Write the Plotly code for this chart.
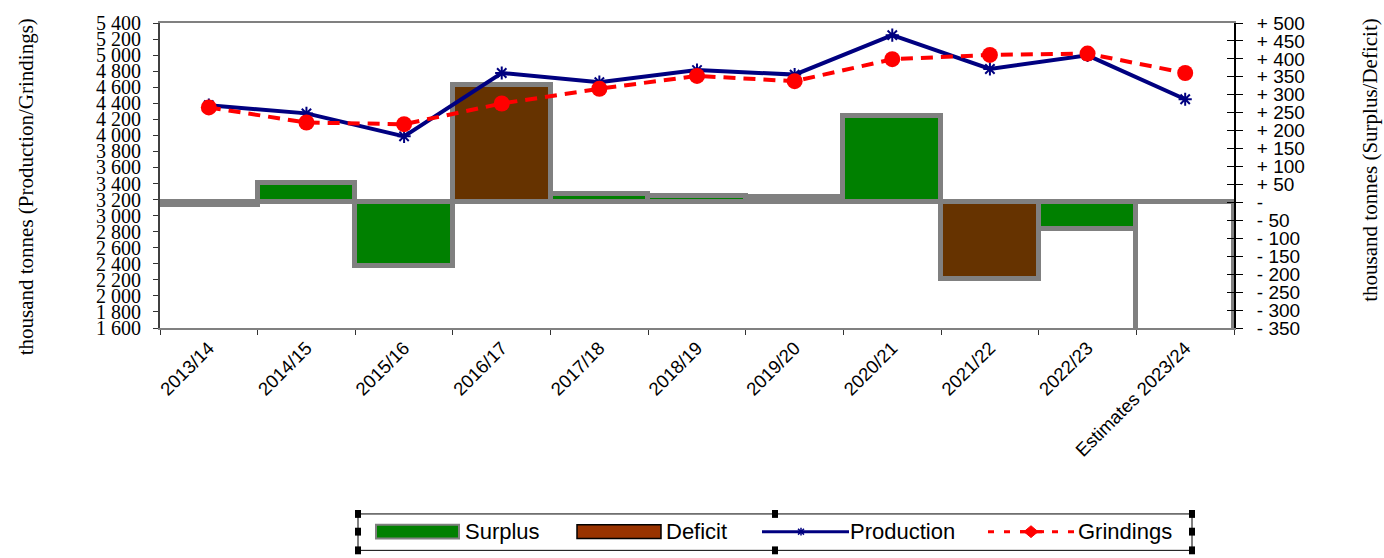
import plotly.graph_objects as go

# ---------------- data ----------------
categories = ["2013/14", "2014/15", "2015/16", "2016/17", "2017/18", "2018/19",
              "2019/20", "2020/21", "2021/22", "2022/23", "Estimates 2023/24"]
production = [4376, 4274, 3988, 4777, 4663, 4814, 4757, 5248, 4827, 4997, 4450]
grindings = [4348, 4160, 4139, 4397, 4581, 4741, 4675, 4949, 5002, 5019, 4777]
balance = [-6, 54, -176, 327, 24, 18, 15, 242, -213, -75, -462]
balance_kind = ["Surplus", "Surplus", "Surplus", "Deficit", "Surplus", "Surplus",
                "Deficit", "Surplus", "Deficit", "Surplus", "Estimate"]
right_tickvals = [500, 450, 400, 350, 300, 250, 200, 150, 100, 50, 0,
                  -50, -100, -150, -200, -250, -300, -350]
right_ticktext = ["+ 500", "+ 450", "+ 400", "+ 350", "+ 300", "+ 250", "+ 200",
                  "+ 150", "+ 100", "+ 50", "-", "- 50", "- 100", "- 150",
                  "- 200", "- 250", "- 300", "- 350"]

kind_color = {"Surplus": "#008000", "Deficit": "#663300", "Estimate": "rgba(0,0,0,0)"}
bar_colors = [kind_color[k] for k in balance_kind]

# ---------------- geometry (pixels) ----------------
W, H = 1384, 558
L, R, T, B = 160, 150, 18, 230
PW, PH = W - L - R, H - T - B


def px(x):
    return (x - L) / PW


def py(y):
    return (H - B - y) / PH


fig = go.Figure()

fig.add_trace(go.Bar(
    x=categories, y=balance, width=1, yaxis="y",
    marker=dict(color=bar_colors, line=dict(color="#808080", width=5)),
    showlegend=False, hoverinfo="x+y"))

fig.add_trace(go.Scatter(
    x=categories, y=[None] * len(categories), yaxis="y3",
    showlegend=False, hoverinfo="skip"))

fig.add_trace(go.Scatter(
    x=categories, y=production, yaxis="y2", mode="lines+markers", name="Production",
    line=dict(color="#000080", width=4),
    marker=dict(symbol="asterisk-open", size=11, color="#000080",
                line=dict(color="#000080", width=2)),
    showlegend=False))

fig.add_trace(go.Scatter(
    x=categories, y=grindings, yaxis="y2", mode="lines+markers", name="Grindings",
    line=dict(color="#FF0000", width=4, dash="12px,8px"),
    marker=dict(symbol="circle", size=16, color="#FF0000"),
    showlegend=False))

fig.update_layout(
    width=W, height=H,
    margin=dict(l=L, r=R, t=T, b=B, pad=0),
    paper_bgcolor="white", plot_bgcolor="white",
    separators=". ",
    bargap=0,
    showlegend=False,
    xaxis=dict(
        type="category", range=[-0.5, len(categories) - 0.5],
        tickangle=-45, ticks="outside", tickson="boundaries", ticklen=5,
        tickcolor="#333333", tickwidth=1,
        showline=True, linecolor="#808080", linewidth=2, mirror=True,
        showgrid=False,
        tickfont=dict(family="Liberation Sans, Arial", size=18.5, color="black")),
    yaxis=dict(
        side="right", range=[-350, 500],
        tickvals=right_tickvals, ticktext=right_ticktext,
        ticks="outside", ticklen=7, tickcolor="black", tickwidth=1,
        showline=True, linecolor="black", linewidth=2,
        showgrid=False, zeroline=False, ticklabelstandoff=10,
        tickfont=dict(family="Liberation Sans, Arial", size=19, color="black")),
    yaxis3=dict(
        side="right", overlaying="y", range=[-350, 500],
        tickvals=right_tickvals, ticks="inside", ticklen=7,
        tickcolor="black", tickwidth=1, showticklabels=False,
        showline=False, showgrid=False, zeroline=False),
    yaxis2=dict(
        side="left", overlaying="y", range=[1600, 5400], dtick=200,
        tickformat=",d", ticks="outside", ticklen=5, tickcolor="#333333",
        showline=True, linecolor="#404040", linewidth=2,
        showgrid=False, zeroline=False, ticklabelstandoff=8,
        tickfont=dict(family="Liberation Serif, Times New Roman", size=20, color="black")),
)

annotations = [
    dict(text="thousand tonnes (Production/Grindings)", x=px(26), y=py(185),
         xref="paper", yref="paper", xanchor="center", yanchor="middle",
         showarrow=False, textangle=-90,
         font=dict(family="Liberation Serif, Times New Roman", size=21, color="black")),
    dict(text="thousand tonnes (Surplus/Deficit)", x=px(1370), y=py(158),
         xref="paper", yref="paper", xanchor="center", yanchor="middle",
         showarrow=False, textangle=-90,
         font=dict(family="Liberation Serif, Times New Roman", size=21, color="black")),
]

# ---------------- custom legend ----------------
shapes = []
lx0, lx1, ly0, ly1 = 358, 1192, 517, 554
lym = 535
shapes.append(dict(type="rect", xref="paper", yref="paper",
                   x0=px(lx0), x1=px(lx1), y0=py(ly0), y1=py(ly1),
                   line=dict(color="black", width=1), fillcolor="rgba(0,0,0,0)"))
for hx in (lx0, (lx0 + lx1) / 2, lx1):
    for hy in (ly0, lym, ly1):
        if hx == (lx0 + lx1) / 2 and hy == lym:
            continue
        shapes.append(dict(type="rect", xref="paper", yref="paper",
                           x0=px(hx - 3), x1=px(hx + 3), y0=py(hy - 4), y1=py(hy + 4),
                           line=dict(color="black", width=0), fillcolor="black"))

font_leg = dict(family="Liberation Sans, Arial", size=22, color="black")
# Surplus
shapes.append(dict(type="rect", xref="paper", yref="paper",
                   x0=px(376), x1=px(459), y0=py(528), y1=py(542),
                   line=dict(color="#808080", width=2), fillcolor="#008000"))
annotations.append(dict(text="Surplus", x=px(463), y=py(lym), xref="paper", yref="paper",
                        xanchor="left", yanchor="middle", showarrow=False, font=font_leg))
# Deficit
shapes.append(dict(type="rect", xref="paper", yref="paper",
                   x0=px(577), x1=px(661), y0=py(528), y1=py(542),
                   line=dict(color="black", width=1.5), fillcolor="#993300"))
annotations.append(dict(text="Deficit", x=px(664), y=py(lym), xref="paper", yref="paper",
                        xanchor="left", yanchor="middle", showarrow=False, font=font_leg))
# Production
shapes.append(dict(type="line", xref="paper", yref="paper",
                   x0=px(762), x1=px(849), y0=py(lym), y1=py(lym),
                   line=dict(color="#000080", width=3)))
for dx, dy in ((4, 0), (0, 4), (3, 3), (3, -3)):
    shapes.append(dict(type="line", xref="paper", yref="paper",
                       x0=px(801 - dx), x1=px(801 + dx), y0=py(lym - dy), y1=py(lym + dy),
                       line=dict(color="#000080", width=1.5)))
annotations.append(dict(text="Production", x=px(848), y=py(lym), xref="paper", yref="paper",
                        xanchor="left", yanchor="middle", showarrow=False, font=font_leg))
# Grindings
shapes.append(dict(type="line", xref="paper", yref="paper",
                   x0=px(988), x1=px(1074), y0=py(lym), y1=py(lym),
                   line=dict(color="#FF0000", width=3, dash="6px,10px")))
shapes.append(dict(type="path", xref="paper", yref="paper",
                   path="M {} {} L {} {} L {} {} L {} {} Z".format(
                       px(1031), py(lym - 6), px(1038), py(lym),
                       px(1031), py(lym + 6), px(1024), py(lym)),
                   line=dict(color="#FF0000", width=1), fillcolor="#FF0000"))
shapes.append(dict(type="line", xref="paper", yref="paper",
                   x0=px(1020), x1=px(1044), y0=py(lym), y1=py(lym),
                   line=dict(color="#FF0000", width=3)))
annotations.append(dict(text="Grindings", x=px(1076), y=py(lym), xref="paper", yref="paper",
                        xanchor="left", yanchor="middle", showarrow=False, font=font_leg))

fig.update_layout(annotations=annotations, shapes=shapes)

fig.write_html("out.html", config={"displayModeBar": False})

# remove default page margins so the figure sits at the window's top-left corner
with open("out.html", encoding="utf-8") as f:
    html = f.read()
html = html.replace("<head>", "<head><style>html,body{margin:0;padding:0;overflow:hidden;}</style>", 1)
with open("out.html", "w", encoding="utf-8") as f:
    f.write(html)
